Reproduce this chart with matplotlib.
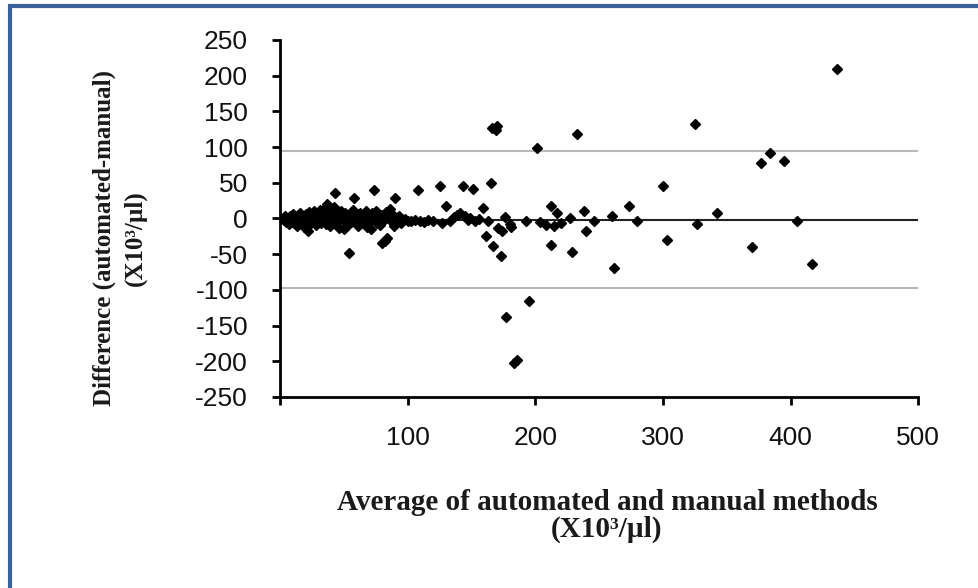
import matplotlib.pyplot as plt
from matplotlib.patches import Rectangle

plt.rcParams['axes.unicode_minus'] = False

# Bland-Altman data (X10^3/ul)
avg = [3, 4, 5, 6, 7, 8, 9, 10, 11, 12, 13, 14, 15, 16, 17, 18, 19, 20,
       21, 22, 23, 24, 25, 26, 27, 28, 29, 30, 31, 32, 33, 34, 35, 36, 37,
       38, 39, 40, 41, 42, 43, 44, 45, 46, 47, 48, 49, 50, 51, 53, 54, 55,
       56, 57, 58, 59, 60, 61, 62, 63, 64, 65, 66, 67, 68, 69, 70, 71, 72,
       73, 74, 75, 76, 77, 78, 79, 80, 81, 82, 83, 84, 85, 86, 87, 88, 89,
       90, 91, 93, 95, 98, 100, 103, 106, 108, 110, 113, 116, 120, 125, 127,
       130, 133, 136, 139, 141, 143, 145, 147, 149, 151, 153, 156, 159, 161,
       163, 165, 166, 167, 169, 170, 171, 173, 174, 176, 177, 180, 181, 183,
       186, 193, 195, 201, 204, 208, 212, 212, 215, 217, 220, 227, 229, 233,
       238, 240, 246, 260, 262, 273, 280, 300, 303, 325, 327, 342, 370, 377,
       384, 395, 405, 417, 436]
diff = [-2, 3, -5, 1, -8, 4, -3, 6, -6, 2, -10, 5, -1, 8, -4, 3, -12, 6,
        -2, -18, 9, -7, 2, -5, 10, -9, 4, -3, 12, -6, 7, -1, 14, -8, 20,
        3, -11, 9, -4, 16, 36, -6, 5, -13, 2, 11, -2, -15, 7, -9, -49, 3,
        -5, 12, 29, -3, 6, -10, 1, 8, -7, 4, -2, 10, -12, 3, -5, -15, 7,
        -1, 40, 11, -6, 2, -9, 5, -35, -3, -32, 9, -28, 1, 13, -4, 6, -11,
        28, -2, 3, -6, -1, -3, -4, -2, 40, -3, -5, -2, -4, 46, -6,
        17, -3, 2, 5, 7, 46, 3, -2, 1, 41, -4, -1, 14, -24,
        -3, 49, 126, -39, 124, 129, -14, -52, -17, 2, -138, -8, -12, -203,
        -198, -4, -116, 98, -5, -9, 18, -37, -10, 8, -7, 0, -47, 118,
        11, -17, -4, 4, -69, 18, -4, 46, -30, 132, -8, 8, -40, 78,
        92, 81, -4, -64, 210]

mean_diff = -1.5
upper_loa = 94
lower_loa = -97

xticks = [0, 100, 200, 300, 400, 500]
xticklabels = ['', '100', '200', '300', '400', '500']
yticks = list(range(-250, 251, 50))

fig = plt.figure(figsize=(9.79, 5.88), dpi=100)
ax = fig.add_axes([0.286, 0.325, 0.652, 0.607])

ax.axhline(upper_loa, color='#b8b8b8', lw=1.5, zorder=1)
ax.axhline(lower_loa, color='#b8b8b8', lw=1.5, zorder=1)
ax.axhline(mean_diff, color='#222222', lw=1.5, zorder=1)
ax.plot(avg, diff, 'D', color='black', ms=4.8, zorder=3)

ax.set_xlim(0, 500)
ax.set_ylim(-250, 250)
ax.set_xticks(xticks)
ax.set_xticklabels(xticklabels)
ax.set_yticks(yticks)
for s in ['top', 'right']:
    ax.spines[s].set_visible(False)
for s in ['left', 'bottom']:
    ax.spines[s].set_linewidth(2)
ax.tick_params(axis='both', direction='out', length=6, width=2,
               labelsize=19)
ax.tick_params(axis='y', pad=17)
ax.tick_params(axis='x', pad=15)
for lab in ax.get_xticklabels() + ax.get_yticklabels():
    lab.set_family('Liberation Sans')
    lab.set_color('#111111')

xfont = dict(family='Liberation Serif', fontweight='bold', fontsize=21,
             color='#1a1a1a')
yfont = dict(family='Liberation Serif', fontweight='bold', fontsize=18,
             color='#1a1a1a')
fig.text(0.62, 0.145, 'Average of automated and manual methods',
         ha='center', va='center', **xfont)
fig.text(0.62, 0.099, '(X10\u00b3/\u00b5l)', ha='center', va='center',
         **xfont)
fig.text(0.107, 0.595, 'Difference (automated-manual)', rotation=90,
         ha='center', va='center', **yfont)
fig.text(0.138, 0.595, '(X10\u00b3/\u00b5l)', rotation=90,
         ha='center', va='center', **yfont)

# blue frame of the original figure
fig.patches.append(Rectangle((0.0105, -0.1), 1.2, 1.09,
                             transform=fig.transFigure, fill=False,
                             edgecolor='#3c609a', lw=3))

fig.savefig('out.png', dpi=100)
